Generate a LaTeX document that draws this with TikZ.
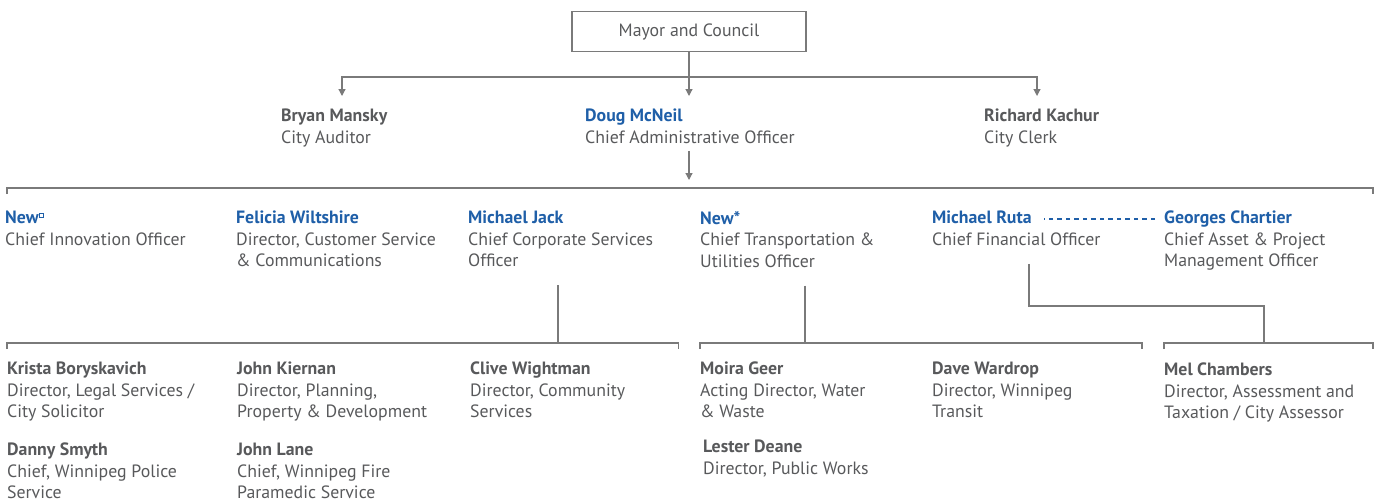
\documentclass[tikz,border=0pt]{standalone}
\usepackage{fontspec}
\setmainfont{PT Sans}
\usetikzlibrary{arrows.meta}

\definecolor{inkgray}{HTML}{58595B}
\definecolor{cityblue}{HTML}{1F5FA8}
\definecolor{rulegray}{HTML}{7A7A7A}

\newcommand{\nm}[1]{\textbf{#1}}
\newcommand{\bn}[1]{\textcolor{cityblue}{\textbf{#1}}}
\newcommand{\sqmark}{\textsuperscript{\textcolor{cityblue}{\fboxsep=0pt\fboxrule=0.7pt\fbox{\rule{0pt}{3.5pt}\hspace{3.5pt}}}}}

\tikzset{
  who/.style={anchor=north west, align=left, inner sep=0pt, text=inkgray,
    font=\fontsize{17.8}{21.5}\selectfont},
  seat/.style={draw=rulegray, line width=1.3pt, minimum width=234pt,
    minimum height=40pt, text=inkgray, font=\fontsize{17.8}{21.5}\selectfont},
  link/.style={draw=rulegray, line width=1.2pt},
  arr/.style={link, -{Triangle[length=7pt,width=7pt]}},
  dashlink/.style={draw=cityblue, line width=1.2pt, dash pattern=on 4.5pt off 4pt},
}

\begin{document}
\begin{tikzpicture}[x=1pt,y=-1pt]
    \useasboundingbox (0,0) rectangle (1380,498);
    % council and who reports to it
    \node[seat] (mayor) at (689,31.7) {Mayor and Council};
    \node[who] (auditor) at (281,109) {\nm{Bryan Mansky}\\City Auditor};
    \node[who] (cao) at (585,109) {\bn{Doug McNeil}\\Chief Administrative Officer};
    \node[who] (clerk) at (984,109) {\nm{Richard Kachur}\\City Clerk};
    \coordinate (fork) at (689,77);
    \coordinate (audtip) at (342,96);
    \coordinate (clktip) at (1037,96);
    \draw[arr] (mayor.south) -- (fork |- audtip);
    \draw[arr] (fork) -| (audtip);
    \draw[arr] (fork) -| (clktip);
    % cao bus
    \coordinate (caobus) at (689,188);
    \coordinate (busW) at (7,188);
    \coordinate (busE) at (1373,188);
    \draw[arr, shorten >=8pt] ([yshift=-7pt]cao.south -| caobus) -- (caobus);
    \draw[link] ([yshift=-6pt]busW) -- (busW) -- (busE) -- ([yshift=-6pt]busE);
    % second row
    \node[who] (innov) at (5,211) {\bn{New}\sqmark\\Chief Innovation Officer};
    \node[who] (custsvc) at (236,211) {\bn{Felicia Wiltshire}\\Director, Customer Service\\\& Communications};
    \node[who] (corpsvc) at (468,211) {\bn{Michael Jack}\\Chief Corporate Services\\Officer};
    \node[who] (transp) at (700,211) {\bn{New*}\\Chief Transportation \&\\Utilities Officer};
    \node[who] (cfo) at (932,211) {\bn{Michael Ruta}\\Chief Financial Officer};
    \node[who] (assets) at (1164,211) {\bn{Georges Chartier}\\Chief Asset \& Project\\Management Officer};
    \draw[dashlink] ([xshift=-9pt,yshift=-8pt]assets.north west) -- ++(-111,0);
    % drops to the third row
    \coordinate (jackdrop) at (558,343);
    \coordinate (transdrop) at (805,343);
    \coordinate (cfobend) at (1029,306);
    \coordinate (cfodrop) at (1264,343);
    \draw[link] ([yshift=-18pt]corpsvc.south -| jackdrop) -- (jackdrop);
    \draw[link] ([yshift=-18pt]transp.south -| transdrop) -- (transdrop);
    \draw[link] ([yshift=-18pt]cfo.south -| cfobend) -- (cfobend) -| (cfodrop);
    \coordinate (leftW) at (7,343);
    \coordinate (leftE) at (678.5,343);
    \coordinate (midW) at (700,343);
    \coordinate (midE) at (1142,343);
    \coordinate (rightW) at (1164,343);
    \coordinate (rightE) at (1373,343);
    \foreach \a/\b in {leftW/leftE, midW/midE, rightW/rightE}
      \draw[link] ([yshift=-6pt]\a) -- (\a) -- (\b) -- ([yshift=-6pt]\b);
    % third row
    \node[who] (legal) at (7,362) {\nm{Krista Boryskavich}\\Director, Legal Services /\\City Solicitor};
    \node[who] (police) at (7,443) {\nm{Danny Smyth}\\Chief, Winnipeg Police\\Service};
    \node[who] (planning) at (237,362) {\nm{John Kiernan}\\Director, Planning,\\Property \& Development};
    \node[who] (fire) at (237,443) {\nm{John Lane}\\Chief, Winnipeg Fire\\Paramedic Service};
    \node[who] (community) at (470,362) {\nm{Clive Wightman}\\Director, Community\\Services};
    \node[who] (water) at (700,362) {\nm{Moira Geer}\\Acting Director, Water\\\& Waste};
    \node[who] (works) at (703,440) {\nm{Lester Deane}\\Director, Public Works};
    \node[who] (transit) at (932,362) {\nm{Dave Wardrop}\\Director, Winnipeg\\Transit};
    \node[who] (assess) at (1164,363) {\nm{Mel Chambers}\\Director, Assessment and\\Taxation / City Assessor};
\end{tikzpicture}
\end{document}
